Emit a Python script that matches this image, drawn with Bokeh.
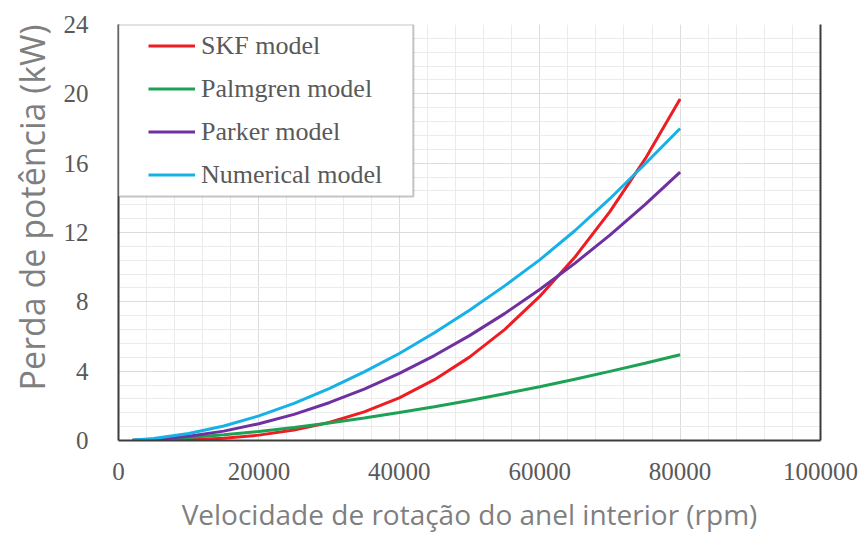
from bokeh.plotting import figure
from bokeh.models import (Legend, LegendItem, BoxAnnotation, LinearAxis, FixedTicker,
                          BasicTickFormatter, Title)
from bokeh.embed import file_html
from bokeh.resources import INLINE

# Rotational speed of the inner ring (rpm) and power loss (kW) for each model
rpm = [2000, 5000, 10000, 15000, 20000, 25000, 30000, 35000, 40000,
       45000, 50000, 55000, 60000, 65000, 70000, 75000, 80000]
skf = [0.00, 0.01, 0.04, 0.13, 0.31, 0.60, 1.04, 1.65, 2.46,
       3.51, 4.81, 6.40, 8.31, 10.57, 13.20, 16.23, 19.70]
palmgren = [0.01, 0.06, 0.17, 0.33, 0.52, 0.75, 1.01, 1.30, 1.61,
            1.95, 2.31, 2.70, 3.10, 3.53, 3.99, 4.46, 4.95]
parker = [0.01, 0.06, 0.24, 0.54, 0.97, 1.51, 2.18, 2.96, 3.87,
          4.90, 6.05, 7.32, 8.71, 10.22, 11.85, 13.61, 15.48]
numerical = [0.02, 0.11, 0.40, 0.84, 1.42, 2.14, 2.99, 3.96, 5.02,
             6.22, 7.52, 8.92, 10.42, 12.10, 13.95, 15.95, 18.00]

series_names = ["SKF model", "Palmgren model", "Parker model", "Numerical model"]
series_values = [skf, palmgren, parker, numerical]
series_colors = ["#ee1d24", "#1da155", "#7030a0", "#16b1e6"]

x_ticks = [0, 20000, 40000, 60000, 80000, 100000]
y_ticks = [0, 4, 8, 12, 16, 20, 24]

TICK_FONT = "Liberation Serif"
TITLE_FONT = "Open Sans"

p = figure(width=864, height=535, x_range=(0, 100000), y_range=(0, 24),
           output_backend="svg", toolbar_location=None,
           min_border_left=118, min_border_right=44,
           min_border_top=24, min_border_bottom=95)
p.background_fill_color = "white"
p.border_fill_color = "white"
p.outline_line_color = None

# axes
p.xaxis.ticker = FixedTicker(ticks=x_ticks, minor_ticks=list(range(0, 100001, 4000)))
p.yaxis.ticker = FixedTicker(ticks=y_ticks, minor_ticks=[i * 0.8 for i in range(31)])
p.xaxis.formatter = BasicTickFormatter(use_scientific=False)
for ax in (p.xaxis[0], p.yaxis[0]):
    ax.axis_line_color = "#3c3c3c"
    ax.axis_line_width = 2
    ax.major_tick_line_color = None
    ax.minor_tick_line_color = None
    ax.major_label_text_font = TICK_FONT
    ax.major_label_text_font_size = "25px"
    ax.major_label_text_color = "#595959"
p.xaxis.major_label_standoff = 16
p.yaxis.major_label_standoff = 24
p.xaxis.axis_label = "Velocidade de rotação do anel interior (rpm)"
p.xaxis.axis_label_standoff = 12
p.xaxis.axis_label_text_font = TITLE_FONT
p.xaxis.axis_label_text_font_size = "28px"
p.xaxis.axis_label_text_font_style = "normal"
p.xaxis.axis_label_text_color = "#7f7f7f"

# vertical title, anchored toward the top of the plot area
y_title = Title(text="Perda de potência (kW)", align="right", offset=0,
                text_font=TITLE_FONT, text_font_size="34px", text_font_style="normal",
                text_color="#7f7f7f", standoff=12)
p.add_layout(y_title, "left")

# right border of the plot area
right_axis = LinearAxis(ticker=FixedTicker(ticks=[]), axis_line_color="#3c3c3c",
                        axis_line_width=2, major_tick_line_color=None,
                        minor_tick_line_color=None)
p.add_layout(right_axis, "right")

# grid
p.xgrid.grid_line_color = "#dcdcdc"
p.ygrid.grid_line_color = "#dcdcdc"
p.xgrid.minor_grid_line_color = "#ebebeb"
p.ygrid.minor_grid_line_color = "#ebebeb"

# curves
renderers = []
for name, vals, col in zip(series_names, series_values, series_colors):
    r = p.line(rpm, vals, line_color=col, line_width=3)
    renderers.append(r)

# legend box in the upper-left corner
legend_box = BoxAnnotation(left=0, right=42000, bottom=14.08, top=24,
                           fill_color="white", fill_alpha=1.0,
                           line_color="#3c3c3c", line_width=2)
p.add_layout(legend_box)

legend = Legend(items=[LegendItem(label=n, renderers=[r]) for n, r in zip(series_names, renderers)],
                location=(30, 244), padding=0, spacing=0, margin=0,
                glyph_width=47, glyph_height=43, label_height=43, label_standoff=6,
                label_text_font=TICK_FONT, label_text_font_size="26px",
                label_text_color="#595959",
                background_fill_alpha=0, border_line_alpha=0)
p.add_layout(legend)

open("out.html", "w").write(file_html(p, INLINE))
